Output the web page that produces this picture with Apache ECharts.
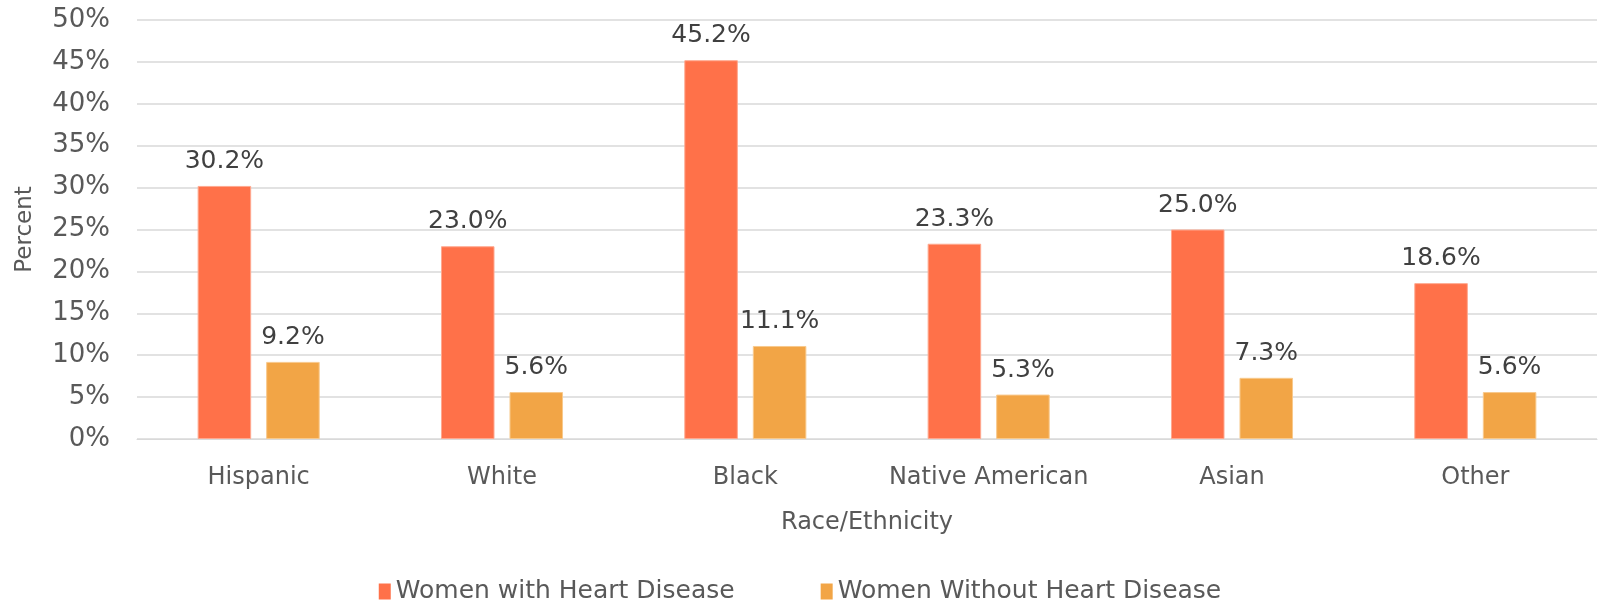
<!DOCTYPE html>
<html>
<head>
<meta charset="utf-8">
<script src="https://cdn.jsdelivr.net/npm/echarts@6/dist/echarts.min.js"></script>
<style>
  html, body { margin: 0; padding: 0; background: #fff; }
  #chart { width: 1600px; height: 606px; }
</style>
</head>
<body>
<div id="chart"></div>
<script>
var categories = ["Hispanic", "White", "Black", "Native American", "Asian", "Other"];
var withHeartDisease = [30.2, 23.0, 45.2, 23.3, 25.0, 18.6];
var withoutHeartDisease = [9.2, 5.6, 11.1, 5.3, 7.3, 5.6];
var seriesNames = ["Women with Heart Disease", "Women Without Heart Disease"];

var fontFamily = "'DejaVu Sans', sans-serif";
var textColor = "#595959";

var myChart = echarts.init(document.getElementById("chart"));
var option = {
  backgroundColor: "#fff",
  textStyle: { fontFamily: fontFamily, color: textColor },
  grid: { left: 137, right: 3, top: 20, bottom: 167, outerBoundsMode: "none" },
  legend: {
    data: seriesNames,
    bottom: -3,
    left: "center",
    icon: "rect",
    itemWidth: 12,
    itemHeight: 16,
    itemGap: 86,
    itemStyle: { borderWidth: 0 },
    textStyle: { fontSize: 25, color: textColor, fontFamily: fontFamily }
  },
  xAxis: {
    type: "category",
    data: categories,
    name: "Race/Ethnicity",
    nameLocation: "middle",
    nameGap: 72,
    nameTextStyle: { fontSize: 24, color: textColor },
    axisLine: { lineStyle: { color: "#d9d9d9" } },
    axisTick: { show: false },
    axisLabel: { fontSize: 24, color: textColor, margin: 27, interval: 0 }
  },
  yAxis: {
    type: "value",
    min: 0,
    max: 50,
    interval: 5,
    name: "Percent",
    nameLocation: "middle",
    nameGap: 100,
    nameMoveOverlap: false,
    nameTextStyle: { fontSize: 23, color: textColor },
    axisLine: { show: false },
    axisTick: { show: false },
    splitLine: { lineStyle: { color: "#d9d9d9", width: 1.5 } },
    axisLabel: {
      fontSize: 26,
      color: textColor,
      margin: 27,
      formatter: function (v) { return v + "%"; }
    }
  },
  series: [
    {
      name: seriesNames[0],
      type: "bar",
      data: withHeartDisease,
      barWidth: "22%",
      barGap: "28%",
      itemStyle: { color: "#FF7149", borderColor: "#FFA88F", borderWidth: 1 },
      label: {
        show: true,
        position: "top",
        distance: 12,
        fontSize: 25,
        color: "#404040",
        formatter: function (p) { return p.value.toFixed(1) + "%"; }
      }
    },
    {
      name: seriesNames[1],
      type: "bar",
      data: withoutHeartDisease,
      barWidth: "22%",
      itemStyle: { color: "#F2A546", borderColor: "#F8C98C", borderWidth: 1 },
      label: {
        show: true,
        position: "top",
        distance: 12,
        fontSize: 25,
        color: "#404040",
        formatter: function (p) { return p.value.toFixed(1) + "%"; }
      }
    }
  ]
};
option && myChart.setOption(option);
</script>
</body>
</html>
